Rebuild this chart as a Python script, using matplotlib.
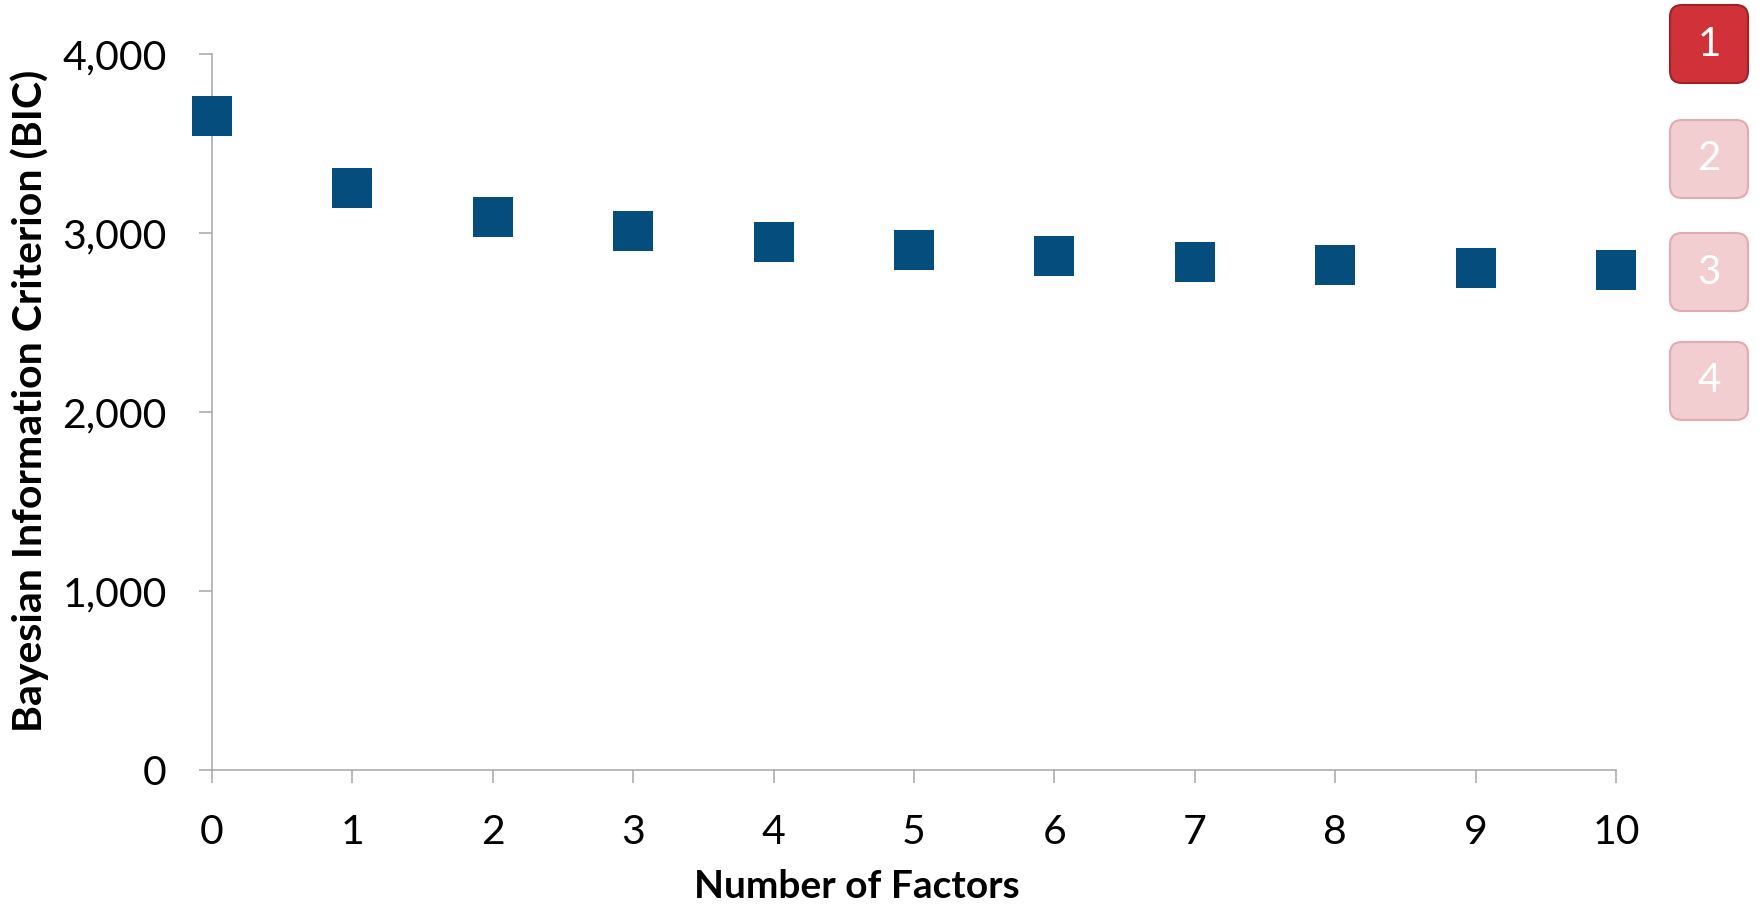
import matplotlib
matplotlib.use("Agg")
import matplotlib.pyplot as plt
from matplotlib.patches import FancyBboxPatch
from matplotlib.transforms import IdentityTransform
from matplotlib.ticker import FuncFormatter

# Model-selection results
n_factors = [0, 1, 2, 3, 4, 5, 6, 7, 8, 9, 10]
bic = [3654, 3251, 3089, 3011, 2950, 2905, 2871, 2838, 2821, 2804, 2793]
y_ticks = [0, 1000, 2000, 3000, 4000]
step_labels = ["1", "2", "3", "4"]
active_step = "1"

plt.rcParams["font.family"] = ["Lato", "DejaVu Sans"]

W, H, DPI = 1762, 907, 100
fig = plt.figure(figsize=(W / DPI, H / DPI), dpi=DPI)
fig.patch.set_facecolor("white")

left, right, bottom, top = 212, 1616, 770, 54
ax = fig.add_axes([left / W, 1 - bottom / H, (right - left) / W, (bottom - top) / H])

ax.plot(n_factors, bic, linestyle="none", marker="s", markersize=28.8,
        color="#054D7D", markeredgewidth=0, clip_on=False, zorder=3)

ax.set_xlim(0, 10)
ax.set_ylim(0, 4000)
ax.set_xticks(n_factors)
ax.set_yticks(y_ticks)
ax.yaxis.set_major_formatter(FuncFormatter(lambda v, p: f"{int(v):,}"))

axis_grey = "#A6A6A6"
for side in ("top", "right"):
    ax.spines[side].set_visible(False)
for side in ("left", "bottom"):
    ax.spines[side].set_color(axis_grey)
    ax.spines[side].set_linewidth(1.1)

ax.tick_params(axis="both", direction="out", length=9.5, width=1.1,
               color=axis_grey, labelsize=29.5, labelcolor="black")
ax.tick_params(axis="y", pad=23)
ax.tick_params(axis="x", pad=22)

fig.text(857 / W, 1 - 887 / H, "Number of Factors", ha="center", va="center",
         fontsize=28, fontweight="bold")
fig.text(30 / W, 1 - 401 / H, "Bayesian Information Criterion (BIC)",
         ha="center", va="center", rotation=90, fontsize=29.5, fontweight="bold")

# Step indicator boxes on the right
box_tops = [5, 120, 233, 342]
box_x0, box_w, box_h = 1670, 78, 78
for lab, yt in zip(step_labels, box_tops):
    active = lab == active_step
    face = "#D13239" if active else "#F2CED0"
    edge = "#9E2128" if active else "#E2ABAE"
    y0 = H - yt - box_h
    patch = FancyBboxPatch((box_x0 + 10, y0 + 10), box_w - 20, box_h - 20,
                           boxstyle="round,pad=10,rounding_size=12",
                           transform=IdentityTransform(), facecolor=face,
                           edgecolor=edge, linewidth=1.5)
    fig.patches.append(patch)
    patch.set_figure(fig)
    fig.text((box_x0 + box_w / 2) / W, (y0 + box_h / 2) / H, lab,
             ha="center", va="center", color="white", fontsize=29)

fig.savefig("out.png", dpi=DPI, facecolor="white")
